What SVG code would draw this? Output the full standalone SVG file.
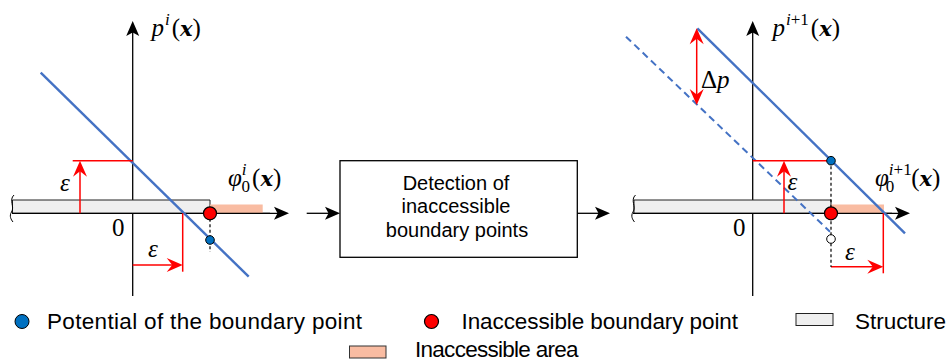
<svg xmlns="http://www.w3.org/2000/svg" width="952" height="362" viewBox="0 0 952 362">
  <style>
    .axis { stroke: #000; stroke-width: 1.3; fill: none; }
    .struct { fill: #efefef; stroke: #222; stroke-width: 1; }
    .brk { fill: none; stroke: #000; stroke-width: 1; }
    .area { fill: #f9bca2; stroke: none; }
    .pot { stroke: #4472c4; stroke-width: 2.4; fill: none; }
    .potOld { stroke: #4472c4; stroke-width: 2; fill: none; stroke-dasharray: 7 4.5; }
    .eps { stroke: #ff0000; stroke-width: 1.5; fill: none; }
    .guide { stroke: #000; stroke-width: 1.2; stroke-dasharray: 3 2.5; fill: none; }
    .ptBlue { fill: #0070c0; stroke: #000; stroke-width: 1; }
    .ptRed { fill: #ff0000; stroke: #000; stroke-width: 1.2; }
    .ptWhite { fill: #fff; stroke: #000; stroke-width: 1; }
    .math { font-family: "Liberation Serif", "Times New Roman", serif; font-size: 25px; fill: #000; }
    .mi { font-style: italic; }
    .bx { font-family: "DejaVu Serif", serif; font-weight: bold; font-style: italic; font-size: 21px; }
    .sup { font-size: 17px; }
    .box { fill: #fff; stroke: #000; stroke-width: 1.3; }
    .boxText { font-family: "Liberation Sans", Arial, sans-serif; font-size: 20px; fill: #000; text-anchor: middle; }
    .leg { font-family: "Liberation Sans", Arial, sans-serif; font-size: 22.5px; fill: #000; }
  </style>
  <defs>
    <marker id="headK" markerUnits="userSpaceOnUse" viewBox="-16 -8 17 16" markerWidth="17" markerHeight="16" refX="-3" refY="0" orient="auto">
      <path d="M0,0 L-15,-6.5 L-11.5,0 L-15,6.5 Z" fill="#000"/>
    </marker>
    <marker id="headR" markerUnits="userSpaceOnUse" viewBox="-17 -8 18 16" markerWidth="18" markerHeight="16" refX="-3" refY="0" orient="auto-start-reverse">
      <path d="M0,0 L-16,-7 L-10.5,0 L-16,7 Z" fill="#ff0000"/>
    </marker>
  </defs>

  <!-- step i: current potential -->
  <g id="panel-i">
    <line class="axis" x1="12" y1="213.3" x2="286" y2="213.3" marker-end="url(#headK)"/>
    <line class="axis" x1="132.7" y1="296" x2="132.7" y2="24" marker-end="url(#headK)"/>
    <path class="struct" d="M12.5,200 H210 V213.3 H12.5 Z"/>
    <path class="brk" d="M14,195 C8.5,200 15,207 11.5,212 C9,216 11,219.5 13,222"/>
    <rect class="area" x="210" y="204.5" width="52.7" height="8.8"/>
    <line class="axis" x1="12" y1="213.3" x2="270" y2="213.3"/>
    <line class="pot" x1="40.7" y1="72.7" x2="248.7" y2="276.7"/>
    <line class="eps" x1="72.7" y1="160.7" x2="132.7" y2="160.7"/>
    <line class="eps" x1="80" y1="213.3" x2="80" y2="163.7" marker-end="url(#headR)"/>
    <line class="eps" x1="182.7" y1="213.3" x2="182.7" y2="271.7"/>
    <line class="eps" x1="132.7" y1="265" x2="179.7" y2="265" marker-end="url(#headR)"/>
    <line class="guide" x1="210" y1="213.3" x2="210" y2="252"/>
    <circle class="ptBlue" cx="210" cy="240" r="4.3"/>
    <circle class="ptRed" cx="210" cy="213.3" r="6.5"/>
    <text class="math mi" x="60" y="191">ε</text>
    <text class="math mi" x="148" y="257">ε</text>
    <text class="math" x="112" y="236">0</text>
    <text class="math" x="151.5" y="36"><tspan class="mi">p</tspan><tspan class="sup mi" dx="1" dy="-11">i</tspan><tspan dx="2" dy="11">(</tspan><tspan class="bx">x</tspan>)</text>
    <text class="math" x="228" y="186"><tspan class="mi">φ</tspan><tspan class="sup mi" dx="0" dy="-11">i</tspan><tspan class="sup" dx="-5" dy="17">0</tspan><tspan dx="2" dy="-6">(</tspan><tspan class="bx">x</tspan>)</text>
  </g>

  <!-- detection step -->
  <g id="detection">
    <rect class="box" x="340" y="160.7" width="237.3" height="96.6"/>
    <text class="boxText" x="456" y="189.5">Detection of</text>
    <text class="boxText" x="456" y="213">inaccessible</text>
    <text class="boxText" x="457" y="237">boundary points</text>
  </g>

  <!-- step i+1: updated potential -->
  <g id="panel-i1">
    <line class="axis" x1="633" y1="213.3" x2="907" y2="213.3" marker-end="url(#headK)"/>
    <line class="axis" x1="752.7" y1="296" x2="752.7" y2="24" marker-end="url(#headK)"/>
    <path class="struct" d="M634,200 H831 V213.3 H634 Z"/>
    <path class="brk" d="M635.5,195 C630,200 636.5,207 633,212 C630.5,216 632.5,219.5 634.5,222"/>
    <rect class="area" x="831" y="204.5" width="53" height="8.8"/>
    <line class="axis" x1="633" y1="213.3" x2="892" y2="213.3"/>
    <line class="potOld" x1="626" y1="36.7" x2="830" y2="231.7"/>
    <line class="pot" x1="697.3" y1="28.3" x2="905" y2="233.3"/>
    <line class="eps" x1="696.7" y1="31.3" x2="696.7" y2="102" marker-start="url(#headR)" marker-end="url(#headR)"/>
    <line class="eps" x1="752.7" y1="160.7" x2="831" y2="160.7"/>
    <line class="eps" x1="784" y1="213.3" x2="784" y2="163.7" marker-end="url(#headR)"/>
    <line class="eps" x1="883.3" y1="213.3" x2="883.3" y2="273.3"/>
    <line class="eps" x1="831" y1="266.7" x2="880.3" y2="266.7" marker-end="url(#headR)"/>
    <line class="guide" x1="831" y1="160.7" x2="831" y2="267"/>
    <circle class="ptBlue" cx="831" cy="160.7" r="4.3"/>
    <circle class="ptWhite" cx="831" cy="239" r="4.3"/>
    <circle class="ptRed" cx="831" cy="213.3" r="6.5"/>
    <text class="math" x="701" y="88">Δ<tspan class="mi">p</tspan></text>
    <text class="math mi" x="787.5" y="190">ε</text>
    <text class="math mi" x="845" y="260">ε</text>
    <text class="math" x="733" y="236">0</text>
    <text class="math" x="772.5" y="36"><tspan class="mi">p</tspan><tspan class="sup" dx="1" dy="-11"><tspan class="mi">i</tspan>+1</tspan><tspan dx="2" dy="11">(</tspan><tspan class="bx">x</tspan>)</text>
    <text class="math" x="875" y="186"><tspan class="mi">φ</tspan><tspan class="sup" dx="0" dy="-11"><tspan class="mi">i</tspan>+1</tspan><tspan class="sup" dx="-26" dy="17">0</tspan><tspan dx="17" dy="-6">(</tspan><tspan class="bx">x</tspan>)</text>
  </g>

  <!-- flow arrows between the steps -->
  <g id="connectors">
    <line class="axis" x1="306.7" y1="213.3" x2="337" y2="213.3" marker-end="url(#headK)"/>
    <line class="axis" x1="577.3" y1="213.3" x2="607" y2="213.3" marker-end="url(#headK)"/>
  </g>

  <!-- legend -->
  <g id="legend">
    <circle class="ptBlue" cx="22" cy="321.5" r="7"/>
    <text class="leg" x="47" y="328.5" textLength="315">Potential of the boundary point</text>
    <circle class="ptRed" cx="431.5" cy="321.5" r="7"/>
    <text class="leg" x="461.5" y="328.5" textLength="276.5">Inaccessible boundary point</text>
    <rect class="struct" x="796" y="313.5" width="37" height="12" stroke="#000"/>
    <text class="leg" x="855" y="328.5" textLength="91">Structure</text>
    <rect x="349.5" y="346" width="36.5" height="12" fill="#f9bca2" stroke="#333" stroke-width="1"/>
    <text class="leg" x="415" y="356.5" textLength="163.5">Inaccessible area</text>
  </g>
</svg>
